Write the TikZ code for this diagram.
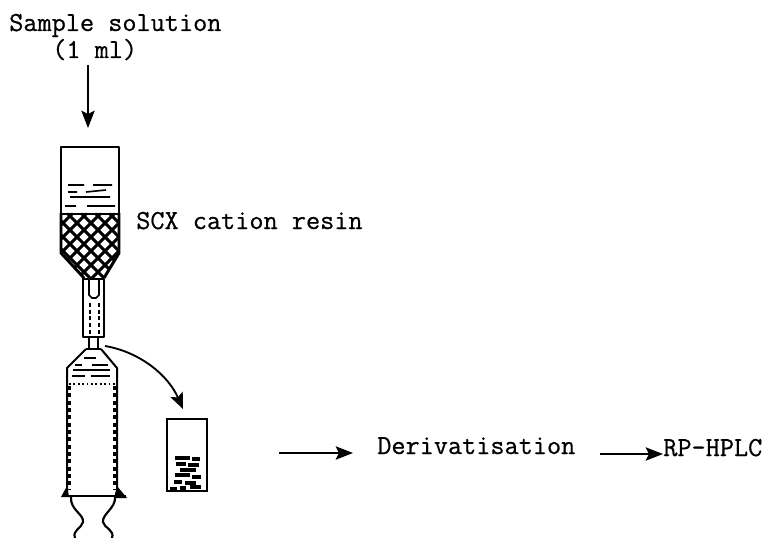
\documentclass[tikz,border=0pt]{standalone}
\usepackage{fontspec}
\setmonofont[FakeBold=0.6]{Latin Modern Mono}
\usetikzlibrary{arrows.meta}
\tikzset{
 x=0.75pt,y=-0.75pt,
 lab/.style={inner sep=0pt,anchor=base west,font=\ttfamily\fontsize{20.6pt}{20.25pt}\selectfont,align=left,text=black},
 wall/.style={line width=1.5pt,line join=round},
 flow/.style={line width=1.3pt,-{Stealth[length=13pt,width=10pt,inset=2.5pt]}},
 liq/.style={line width=1.2pt},
 hatchline/.style={line width=2.3pt},
 blob/.style={line width=2.4pt},
}
\begin{document}
\begin{tikzpicture}
\useasboundingbox (0,0) rectangle (763,538);
\fill[white] (0,0) rectangle (763,538);
% labels
\node[lab] (sample) at (9,31) {Sample solution};
\node[lab] (vol) at (52,58) {(1 ml)};
\node[lab] (resin) at (136,229) {SCX cation resin};
\node[lab] (deriv) at (377,454) {Derivatisation};
\node[lab] (hplc) at (663,456) {RP-HPLC};
% sample arrow
\coordinate (sampleStart) at (88,65);
\coordinate (coltop) at (88,128);
\draw[flow] (sampleStart) -- (coltop);
% resin packing
\begin{scope}
\clip (61,213) -- (119,213) -- (119,253) -- (104,278) -- (84,278) -- (61,253) -- cycle;
\foreach \d in {-64,-50,...,100} {
  \draw[hatchline] (61+\d,213) -- (61+\d+70,283);
  \draw[hatchline] (121-\d,213) -- (121-\d-70,283);
}
\end{scope}
% reservoir
\draw[wall] (61,213) -- (61,147) -- (119,147) -- (119,213);
\draw[line width=2.2pt] (61,214) -- (119,214);
\draw[wall,line width=2.2pt] (61,213) -- (61,253) -- (84,278);
\draw[wall,line width=2.2pt] (119,213) -- (119,253) -- (104,278);
\draw[liq] (68,185) -- (84,185) (93,185) -- (112,185) (68,192) -- (77,192) (86,192) -- (106,190)
 (70,197) -- (110,197) (65,206) -- (76,206) (87,206) -- (115,206);
% connector
\draw[wall,line width=1.7pt] (83,279) rectangle (104,337);
\draw[line width=1.3pt] (89,279) -- (89,295) -- (92,298) -- (96,298) -- (99,295) -- (99,279);
\draw[line width=1.3pt,densely dashed] (90,303) -- (90,336) (99,303) -- (99,336);
\draw[wall] (89,337) -- (89,349) (98,337) -- (98,349);
% syringe
\draw[wall] (86,349) -- (67,368) -- (67,495) (101,349) -- (117,368) -- (117,495);
\draw[wall] (86,349) -- (101,349);
\draw[line width=3pt,dash pattern=on 3pt off 2.5pt] (69,386) -- (69,490) (115,386) -- (115,490);
\draw[line width=1.3pt,dotted] (69,384) -- (115,384);
\draw[liq] (84,358) -- (96,358) (75,365) -- (82,365) (92,365) -- (108,365)
 (73,370) -- (110,370) (72,376) -- (85,376) (91,376) -- (110,376);
\draw[line width=1.8pt] (62,496) -- (126,496);
\fill (61,497) -- (67,486) -- (69,497) -- cycle (127,498) -- (117,486) -- (114,498) -- cycle;
\draw[line width=1.6pt] (71,497) .. controls (70,510) and (84,514) .. (83,522) .. controls (82,528) and (72,530) .. (75,538);
\draw[line width=1.6pt] (115,497) .. controls (116,508) and (102,514) .. (103,522) .. controls (104,528) and (115,530) .. (112,538);
% vial
\node[draw,line width=1.7pt,minimum width=30pt,minimum height=54pt,inner sep=0pt] (vial) at (187,455) {};
\foreach \a/\b/\y in {175/190/458,192/200/459,176/186/464,188/199/465,180/196/470,175/190/475,192/201/477,174/182/482,185/196/483,190/201/487,170/177/489,180/186/488}
  \draw[blob] (\a,\y) -- (\b,\y);
% eluate arrow
\coordinate (tip) at (105,346);
\draw[line width=1.4pt,-{Stealth[length=12pt,width=10pt,inset=2.5pt]}] (tip) .. controls (140,352) and (168,375) .. (183,409);
% process arrows
\coordinate (a1) at (279,453);
\coordinate (a2) at (353,453);
\coordinate (b1) at (600,454);
\draw[flow] (a1) -- (a2);
\draw[flow] (b1) -- (hplc.base west |- b1);
\end{tikzpicture}
\end{document}
